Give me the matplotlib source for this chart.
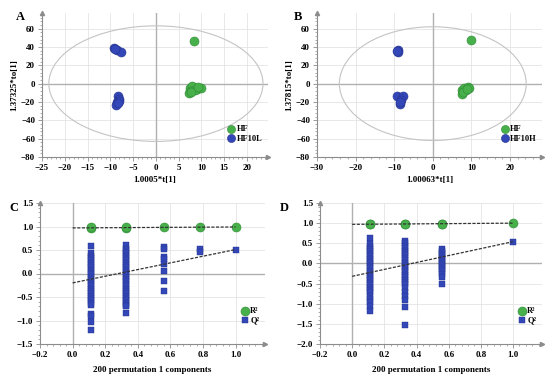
import matplotlib
matplotlib.use('Agg')
import matplotlib.pyplot as plt
from matplotlib.patches import Ellipse
from matplotlib.ticker import MultipleLocator, AutoMinorLocator

plt.rcParams['font.family'] = ['Liberation Serif', 'DejaVu Serif']
plt.rcParams['font.weight'] = 'bold'

GREEN = '#47b04b'
GREEN_EDGE = '#2f8a35'
BLUE = '#3447b8'
BLUE_EDGE = '#23318a'

# --- OPLS-DA scores, panel A (HF vs HF10L)
a_hf_x = [8.3, 7.5, 8.0, 9.0, 9.8, 7.3, 7.8, 8.6, 7.6, 9.3]
a_hf_y = [46, -5, -3, -6, -5, -10, -8, -7, -9, -4]
a_l_x = [-9.3, -8.6, -7.6, -8.9, -8.3, -8.2, -8.5, -8.0, -8.8, -8.3]
a_l_y = [39, 37, 35, 38, -14, -17, -20, -19, -23, -21]
a_ellipse = (23.5, 63)

# --- OPLS-DA scores, panel B (HF vs HF10H)
b_hf_x = [9.8, 7.5, 8.0, 9.0, 9.5, 7.5, 8.5, 7.8, 8.8]
b_hf_y = [48, -7, -5, -4, -5, -11, -7, -9, -6]
b_h_x = [-9.0, -9.0, -9.2, -9.2, -7.6, -8.2, -8.4, -8.6]
b_h_y = [37, 35, 36, -14, -14, -18, -22, -20]
b_ellipse = (24.2, 62)

# --- permutation test, panel C
c_r2_x = [0.11, 0.11, 0.33, 0.33, 0.56, 0.78, 1.0]
c_r2_y = [0.97, 0.98, 0.97, 0.98, 0.98, 0.99, 0.99]
c_q2_x = ([0.11] * 28 + [0.33] * 28 + [0.56] * 8 + [0.78] * 2 + [1.0])
c_q2_y = ([0.59, 0.43, 0.38, 0.33, 0.28, 0.23, 0.18, 0.13, 0.08, 0.03,
           -0.02, -0.07, -0.12, -0.17, -0.22, -0.27, -0.32, -0.37, -0.42,
           -0.47, -0.52, -0.57, -0.62, -0.67, -0.86, -0.91, -1.03, -1.2]
          + [0.61, 0.53, 0.48, 0.43, 0.38, 0.33, 0.28, 0.23, 0.18, 0.13,
             0.08, 0.03, -0.02, -0.07, -0.12, -0.17, -0.22, -0.27, -0.32,
             -0.37, -0.42, -0.47, -0.52, -0.57, -0.62, -0.67, -0.7, -0.83]
          + [0.57, 0.52, 0.36, 0.31, 0.2, 0.06, -0.15, -0.37]
          + [0.52, 0.46] + [0.5])
c_r2_line = ([0.0, 1.0], [0.97, 0.99])
c_q2_line = ([0.0, 1.0], [-0.2, 0.51])

# --- permutation test, panel D
d_r2_x = [0.11, 0.11, 0.33, 0.33, 0.56, 0.56, 1.0]
d_r2_y = [0.97, 0.98, 0.97, 0.98, 0.97, 0.98, 1.0]
d_q2_x = [0.11] * 27 + [0.33] * 25 + [0.56] * 15 + [1.0]
d_q2_y = ([0.64, 0.48, 0.42, 0.36, 0.3, 0.24, 0.18, 0.12, 0.06, 0.0,
           -0.06, -0.12, -0.18, -0.24, -0.3, -0.36, -0.42, -0.48, -0.54,
           -0.6, -0.66, -0.72, -0.8, -0.88, -0.96, -1.06, -1.17]
          + [0.56, 0.5, 0.44, 0.38, 0.32, 0.26, 0.2, 0.14, 0.08, 0.02,
             -0.04, -0.1, -0.16, -0.22, -0.28, -0.34, -0.4, -0.46, -0.52,
             -0.6, -0.7, -0.8, -0.9, -1.08, -1.54]
          + [0.35, 0.3, 0.25, 0.2, 0.15, 0.1, 0.05, 0.0, -0.05, -0.1,
             -0.15, -0.2, -0.26, -0.33, -0.5]
          + [0.54])
d_r2_line = ([0.0, 1.0], [0.97, 1.0])
d_q2_line = ([0.0, 1.0], [-0.32, 0.54])


def style_axes(ax):
    for side in ['top', 'right']:
        ax.spines[side].set_visible(False)
    for side in ['left', 'bottom']:
        ax.spines[side].set_color('#8c8c8c')
        ax.spines[side].set_linewidth(0.8)
    ax.grid(True, color='#e4e4e4', linewidth=0.6)
    ax.set_axisbelow(True)
    ax.axhline(0, color='#b0b0b0', linewidth=1.0, zorder=1)
    ax.axvline(0, color='#b0b0b0', linewidth=1.0, zorder=1)
    ax.xaxis.set_minor_locator(AutoMinorLocator(5))
    ax.yaxis.set_minor_locator(AutoMinorLocator(5))
    ax.tick_params(which='major', length=3, width=0.6, color='#8c8c8c',
                   labelsize=6.5, pad=2)
    ax.tick_params(which='minor', length=1.5, width=0.5, color='#8c8c8c')
    ax.plot(0, 1, marker='^', color='#8c8c8c', markersize=3,
            transform=ax.transAxes, clip_on=False)
    ax.plot(1, 0, marker='>', color='#8c8c8c', markersize=3,
            transform=ax.transAxes, clip_on=False)
    for lab in ax.get_xticklabels() + ax.get_yticklabels():
        lab.set_fontweight('bold')


fig = plt.figure(figsize=(5.5, 3.79), dpi=100)

ax_a = fig.add_axes([42 / 550, 222 / 379, 226 / 550, 144 / 379])
ax_b = fig.add_axes([317 / 550, 222 / 379, 225 / 550, 144 / 379])
ax_c = fig.add_axes([40 / 550, 35 / 379, 225 / 550, 141 / 379])
ax_d = fig.add_axes([320 / 550, 35 / 379, 222 / 550, 141 / 379])

# score plots
for ax, hx, hy, ox, oy, lab2, ell, xl, xt, xlab, ylab in [
        (ax_a, a_hf_x, a_hf_y, a_l_x, a_l_y, 'HF10L', a_ellipse,
         (-25, 24.6), 5, '1.0005*t[1]', '1.37325*to[1]'),
        (ax_b, b_hf_x, b_hf_y, b_h_x, b_h_y, 'HF10H', b_ellipse,
         (-30, 28.3), 10, '1.00063*t[1]', '1.37815*to[1]')]:
    ax.add_patch(Ellipse((0, 0), 2 * ell[0], 2 * ell[1], fill=False,
                         edgecolor='#c4c4c4', linewidth=0.8, zorder=2))
    ax.scatter(hx, hy, s=42, color=GREEN, edgecolors=GREEN_EDGE,
               linewidths=0.4, label='HF', zorder=3)
    ax.scatter(ox, oy, s=42, color=BLUE, edgecolors=BLUE_EDGE,
               linewidths=0.4, label=lab2, zorder=3)
    ax.set_xlim(*xl)
    ax.set_ylim(-80, 77)
    ax.xaxis.set_major_locator(MultipleLocator(xt))
    ax.yaxis.set_major_locator(MultipleLocator(20))
    ax.set_xlabel(xlab, fontsize=6.5, fontweight='bold', labelpad=3)
    ax.set_ylabel(ylab, fontsize=6.5, fontweight='bold', labelpad=2)
    ax.legend(loc='lower right', bbox_to_anchor=(1.0, 0.06), fontsize=6,
              frameon=False, handletextpad=0.1, borderpad=0.2,
              labelspacing=0.15, markerscale=0.9, handlelength=1.0)
    style_axes(ax)

# permutation plots
for ax, rx, ry, qx, qy, rl, ql, yl in [
        (ax_c, c_r2_x, c_r2_y, c_q2_x, c_q2_y, c_r2_line, c_q2_line, (-1.5, 1.5)),
        (ax_d, d_r2_x, d_r2_y, d_q2_x, d_q2_y, d_r2_line, d_q2_line, (-2.0, 1.5))]:
    ax.plot(rl[0], rl[1], linestyle='--', color='#333333', linewidth=0.9,
            dashes=(2.5, 1.2), zorder=4)
    ax.plot(ql[0], ql[1], linestyle='--', color='#333333', linewidth=0.9,
            dashes=(2.5, 1.2), zorder=4)
    ax.scatter(rx, ry, s=42, color=GREEN, edgecolors=GREEN_EDGE,
               linewidths=0.4, label='R²', zorder=3)
    ax.scatter(qx, qy, s=14, marker='s', color=BLUE, edgecolors=BLUE_EDGE,
               linewidths=0.3, label='Q²', zorder=3)
    ax.set_xlim(-0.2, 1.18)
    ax.set_ylim(*yl)
    ax.xaxis.set_major_locator(MultipleLocator(0.2))
    ax.yaxis.set_major_locator(MultipleLocator(0.5))
    ax.xaxis.set_major_formatter(lambda v, p: f'{v:.1f}'.replace('-', '\u2212'))
    ax.yaxis.set_major_formatter(lambda v, p: f'{v:.1f}'.replace('-', '\u2212'))
    ax.set_xlabel('200 permutation 1 components', fontsize=6.5,
                  fontweight='bold', labelpad=5)
    ax.legend(loc='lower right', bbox_to_anchor=(1.0, 0.1), fontsize=6,
              frameon=False, handletextpad=0.1, borderpad=0.2,
              labelspacing=0.15, handlelength=1.0)
    style_axes(ax)

for x, y, t in [(0.028, 0.955, 'A'), (0.535, 0.955, 'B'),
                (0.017, 0.452, 'C'), (0.508, 0.452, 'D')]:
    fig.text(x, y, t, fontsize=9, fontweight='bold', ha='left', va='center')

fig.savefig('out.png', dpi=100)
